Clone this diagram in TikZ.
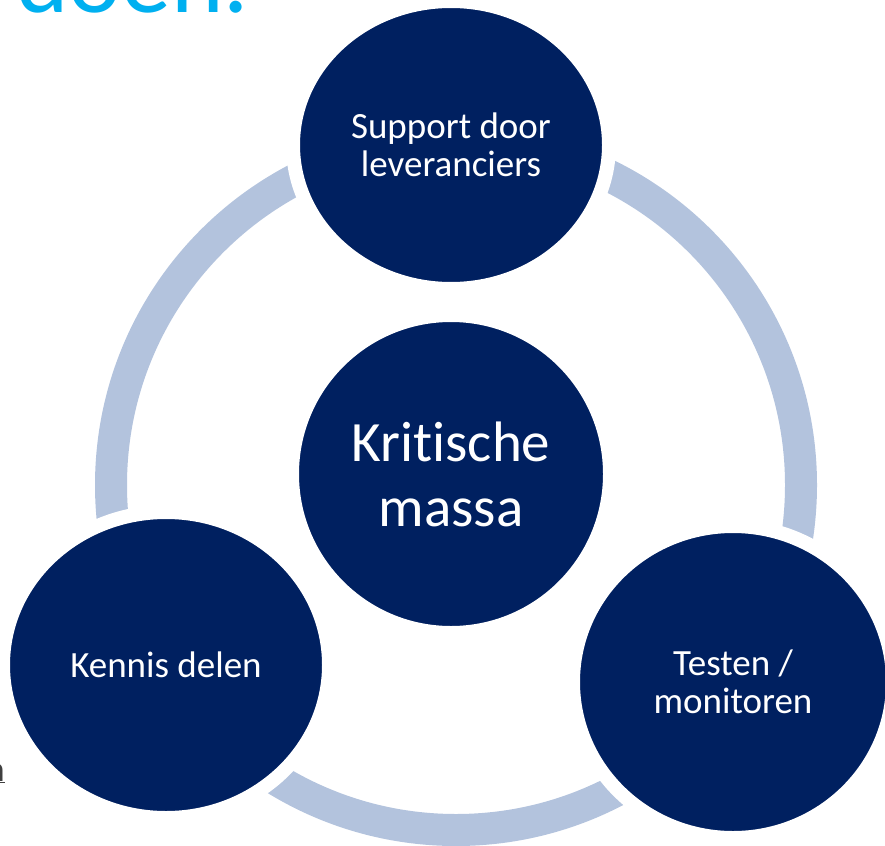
\documentclass[tikz,border=0pt]{standalone}
\usepackage{fontspec}
\setmainfont{Carlito}[Ligatures=NoCommon, RawFeature={-liga;-dlig}]
\usetikzlibrary{shapes.geometric,positioning}
\definecolor{navy}{HTML}{002060}
\definecolor{ringblue}{HTML}{B3C3DD}
\definecolor{titlecyan}{HTML}{00B0F0}
\definecolor{linkgray}{HTML}{404040}

\begin{document}
\begin{tikzpicture}[x=1pt, y=-1pt,
    bubble/.style={ellipse, fill=navy, draw=white, line width=14pt, inner sep=0pt,
                   text=white, align=center, font=\fontsize{37}{38}\selectfont}]
            \useasboundingbox (0,0) rectangle (885,845);
            \clip (0,0) rectangle (885,845);

            % Title fragment and link fragment
            \node[anchor=base west, inner sep=0pt, text=titlecyan, font=\fontsize{100}{100}\selectfont] (title) at (16,13) {doen.};
            \node[anchor=base east, inner sep=0pt, text=linkgray, font=\fontsize{36}{36}\selectfont] (link) at (5,781) {\underline{n}};

            % Ring
            \draw[line width=32pt, ringblue] (456,485) circle[radius=345];

            % Circles
            \node[bubble, minimum width=316pt, minimum height=288pt] (support) at (451,145) {Support door\\leveranciers};
            \node[bubble, minimum width=326pt, minimum height=306pt] (kennis) at (166,665) {Kennis delen};
            \node[bubble, minimum width=320pt, minimum height=312pt] (testen) at (733,682) {Testen /\\monitoren};
            \node[bubble, minimum width=318pt, minimum height=318pt, font=\fontsize{57}{65}\selectfont] (massa) at (451,474) {Kritische\\massa};
        \end{tikzpicture}
\end{document}
